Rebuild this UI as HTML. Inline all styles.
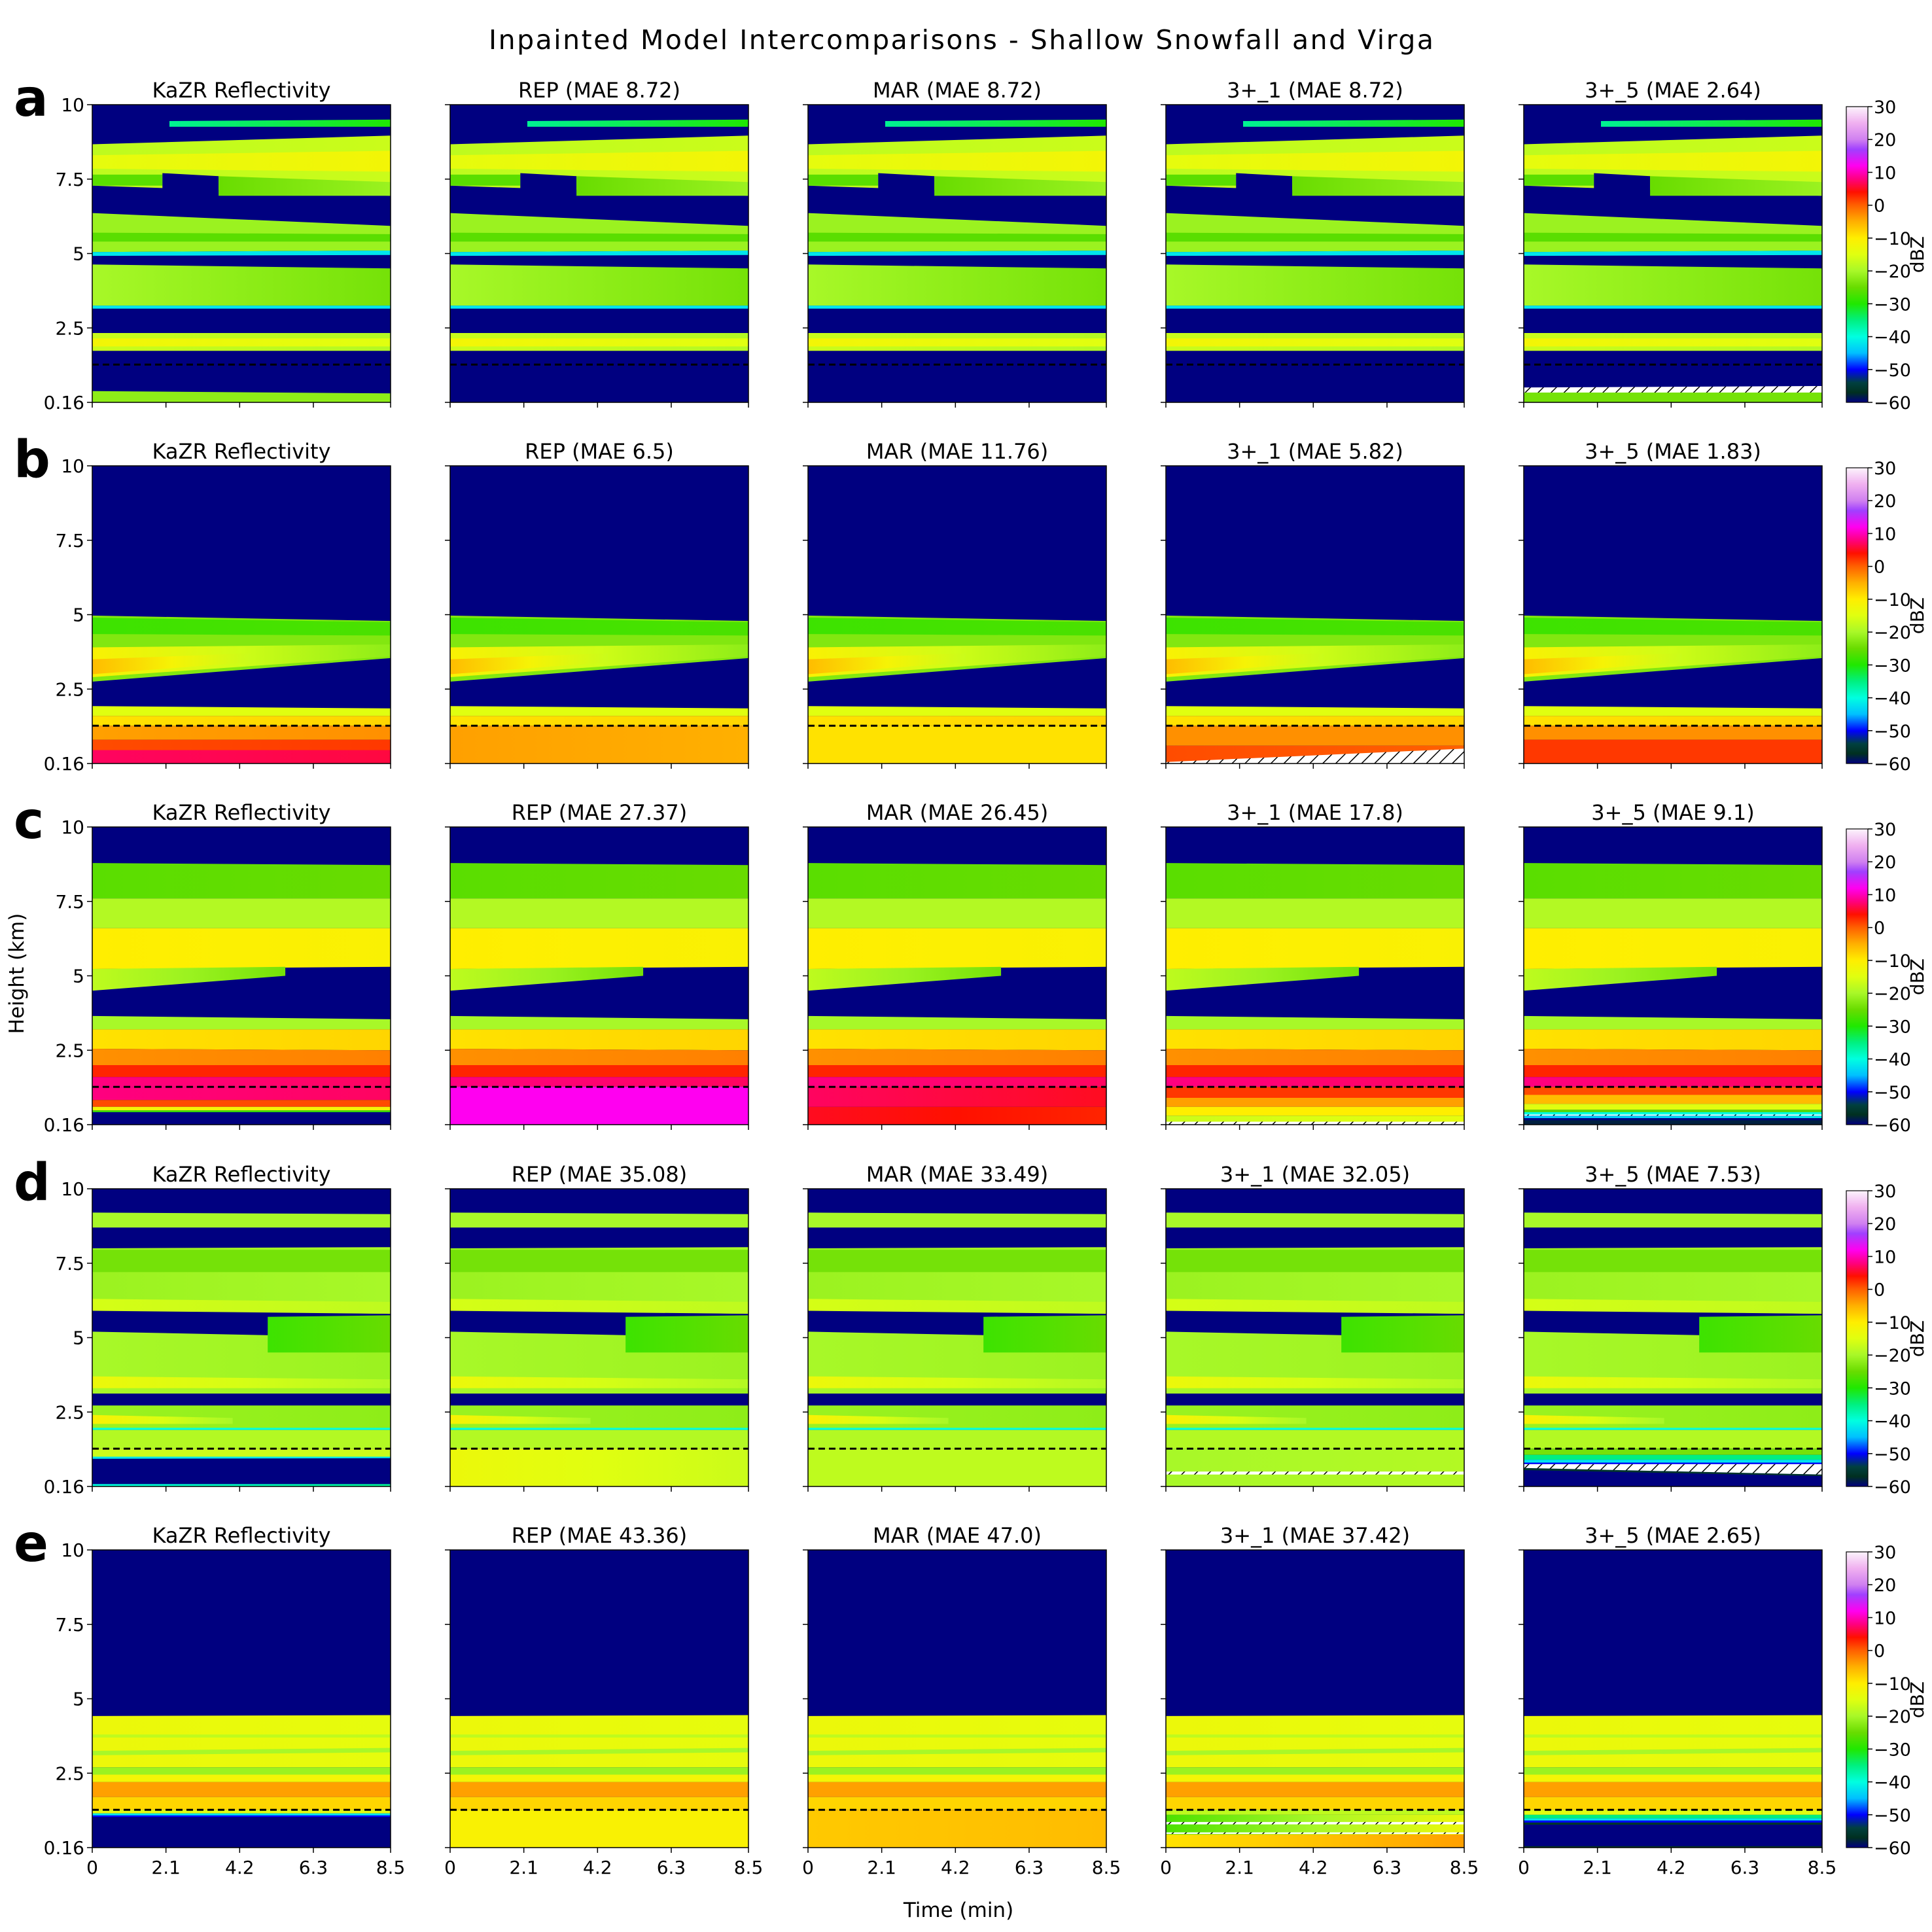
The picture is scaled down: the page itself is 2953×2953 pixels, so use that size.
<!DOCTYPE html>
<html><head><meta charset="utf-8"><title>Inpainted Model Intercomparisons</title>
<style>
html,body{margin:0;padding:0;background:#fff;}
svg{display:block;font-family:"DejaVu Sans","Liberation Sans",sans-serif;}
</style></head>
<body>
<svg id="fig" xmlns="http://www.w3.org/2000/svg" width="2953" height="2953" viewBox="0 0 2953 2953">
<defs id="defs">
<pattern id="hatch" patternUnits="userSpaceOnUse" width="14" height="14" patternTransform="rotate(45)">
<rect width="14" height="14" fill="#fff"/><line x1="0" y1="0" x2="0" y2="14" stroke="#000" stroke-width="3"/>
</pattern>
</defs>
<text x="1469" y="75" font-size="41" text-anchor="middle" textLength="1444">Inpainted Model Intercomparisons - Shallow Snowfall and Virga</text>
<text transform="translate(36,1488) rotate(-90)" font-size="31" text-anchor="middle">Height (km)</text>
<text x="1465" y="2930" font-size="31" text-anchor="middle">Time (min)</text>
</svg>
<script>
// ---------- data ----------
const rowLetters = ['a','b','c','d','e'];
const modelNames = ['KaZR Reflectivity','REP','MAR','3+_1','3+_5'];
const maeA = ['8.72','8.72','8.72','2.64'];
const maeB = ['6.5','11.76','5.82','1.83'];
const maeC = ['27.37','26.45','17.8','9.1'];
const maeD = ['35.08','33.49','32.05','7.53'];
const maeE = ['43.36','47.0','37.42','2.65'];
const xTickLabels = ['0','2.1','4.2','6.3','8.5'];
const xTickValues = [0,2.1,4.2,6.3,8.5];
const yTickLabels = ['10','7.5','5','2.5','0.16'];
const yTickValues = [10,7.5,5,2.5,0];
const cbarTicks = [30,20,10,0,-10,-20,-30,-40,-50,-60];
const blindZoneKm = 1.27;
// band: [bottomStart, bottomEnd, topStart, topEnd, dBZstart, dBZend, tStart?, tEnd?]
const upperA = [
 [7.28,6.94,8.67,8.96,-18,-17],[7.85,7.75,8.3,8.45,-14,-12],[7.28,7.28,7.65,7.65,-26,-26,0,2],
 [7.0,7.0,7.7,7.6,-60,-60,2,3.6],[6.94,6.94,7.6,7.4,-25,-21,3.6,8.5],[9.26,9.26,9.45,9.5,-36,-30,2.2,8.5],
 [5.05,5.1,6.36,5.93,-21,-21],[5.4,5.4,5.7,5.65,-26,-26],[4.92,4.95,5.05,5.1,-42,-42],
 [3.25,3.25,4.63,4.5,-20,-24],[3.15,3.15,3.25,3.25,-42,-42],[1.73,1.73,2.33,2.33,-17,-19],[1.88,1.88,2.15,2.15,-12,-15]
];
const lowA = [[[0,0,0.38,0.3,-22,-22]],[],[],[],[[0,0,0.42,0.45,-24,-24]]];
const hatchA = [[],[],[],[],[[0.33,0.33,0.5,0.55,0,8.5]]];
const upperB = [
 [2.75,3.54,4.97,4.79,-23,-23],[4.35,4.3,4.9,4.75,-28,-27],[2.9,3.6,3.9,4.0,-11,-22],
 [3.0,3.4,3.5,3.7,-6,-17,0,4.5],[1.6,1.6,1.93,1.85,-15,-15],[1.27,1.27,1.6,1.6,-9,-8]
];
const lowB = [
 [[0.8,0.8,1.27,1.27,-4,-3],[0.45,0.45,0.8,0.8,1,2],[0,0,0.45,0.45,7,6]],
 [[0,0,1.27,1.27,-4,-5]],
 [[0,0,1.27,1.27,-9,-9]],
 [[0.6,0.6,1.27,1.27,-3,-3],[0,0,0.6,0.6,1,0]],
 [[0.8,0.8,1.27,1.27,-3,-3],[0,0,0.8,0.8,2,2]]
];
const hatchB = [[],[],[],[[0,0,0.05,0.5,6.8,8.5]],[]];
const upperC = [
 [7.6,7.6,8.79,8.72,-26,-25],[6.6,6.6,7.6,7.6,-19,-19],[5.23,5.3,6.6,6.6,-10,-11],
 [4.5,5.0,5.23,5.3,-18,-24,0,5.5],[3.2,3.2,3.65,3.54,-20,-20],[2.55,2.5,3.2,3.2,-9,-8],
 [2.0,2.0,2.55,2.5,-3,-2],[1.6,1.6,2.0,2.0,3,3],[1.27,1.27,1.6,1.6,8,7]
];
const lowC = [
 [[0.83,0.83,1.27,1.27,8,7],[0.6,0.6,0.83,0.83,1,1],[0.48,0.48,0.6,0.6,-12,-12],[0.42,0.42,0.48,0.48,-28,-28]],
 [[0,0,1.27,1.27,12,12]],
 [[0.6,0.6,1.27,1.27,7,5],[0,0,0.6,0.6,5,3]],
 [[0.9,0.9,1.27,1.27,2,2],[0.6,0.6,0.9,0.9,-4,-4],[0.3,0.3,0.6,0.6,-10,-10],[0,0,0.3,0.3,-17,-14]],
 [[1.0,1.0,1.27,1.27,1,1],[0.7,0.7,1.0,1.0,-6,-6],[0.5,0.5,0.7,0.7,-15,-15],[0.42,0.42,0.5,0.5,-26,-26],[0.34,0.34,0.42,0.42,-40,-40],[0.22,0.22,0.3,0.3,-45,-42],[0,0,0.15,0.15,-58,-58]]
];
const hatchC = [[],[],[],[[0,0,0.1,0.1,0,0.8]],[[0.3,0.3,0.34,0.34,0,1.2]]];
const upperD = [
 [8.7,8.7,9.2,9.15,-20,-20],[5.94,5.8,8.0,8.04,-21,-20],[7.2,7.2,7.95,7.95,-24,-24],
 [5.9,5.8,6.3,6.2,-16,-18],[3.12,3.12,5.2,5.0,-20,-21],[4.5,4.5,5.7,5.75,-28,-25,5.0,8.5],
 [3.3,3.3,3.7,3.6,-13,-19],[1.95,1.95,2.72,2.72,-21,-22],[2.1,2.1,2.4,2.3,-11,-20,0,4],
 [1.9,1.9,1.97,1.97,-40,-40],[1.27,1.27,1.9,1.9,-19,-19]
];
const lowD = [
 [[1.0,1.0,1.27,1.27,-17,-17],[0.93,0.95,1.0,1.0,-42,-42],[0,0,0.08,0.08,-40,-36]],
 [[0,0,1.27,1.27,-13,-17]],
 [[0,0,1.27,1.27,-18,-18]],
 [[0,0,1.27,1.27,-20,-19]],
 [[1.06,1.06,1.27,1.27,-24,-24],[0.9,0.9,1.06,1.06,-35,-35],[0.8,0.8,0.9,0.9,-42,-42],[0.75,0.75,0.8,0.8,-50,-50],[0.55,0.35,0.62,0.4,-56,-56]]
];
const hatchD = [[],[],[],[[0.4,0.4,0.5,0.5,0,0.2]],[[0.62,0.4,0.75,0.75,0,8.5]]];
const upperE = [
 [2.7,2.7,4.42,4.45,-13,-14],[3.1,3.2,3.25,3.35,-20,-20],[3.7,3.7,3.8,3.8,-18,-18],
 [2.45,2.45,2.7,2.7,-21,-21],[2.2,2.2,2.45,2.45,-12,-12],[1.7,1.7,2.2,2.2,-4,-4],[1.27,1.27,1.7,1.7,-8,-8]
];
const lowE = [
 [[1.15,1.15,1.27,1.27,-14,-14],[1.08,1.08,1.15,1.15,-42,-42],[1.03,1.03,1.08,1.08,-50,-50]],
 [[0,0,1.27,1.27,-11,-11]],
 [[0,0,1.27,1.27,-7,-6]],
 [[1.1,1.1,1.27,1.27,-18,-18],[0.44,0.44,1.1,1.1,-27,-13],[0,0,0.44,0.44,-9,-4]],
 [[1.1,1.1,1.27,1.27,-15,-15],[0.98,0.98,1.1,1.1,-35,-35],[0.91,0.91,0.98,0.98,-42,-42],[0.84,0.84,0.91,0.91,-50,-50],[0.77,0.77,0.84,0.84,-56,-56],[0,0,0.05,0.05,-56,-56]]
];
const hatchE = [[],[],[],[[0.78,0.78,0.86,0.86,0.3,1.9],[0.8,0.8,0.84,0.84,1.9,3.2],[0.46,0.46,0.51,0.51,0,6.8]],[]];

const maeRows = [maeA,maeB,maeC,maeD,maeE];
const upperRows = [upperA,upperB,upperC,upperD,upperE];
const lowRows = [lowA,lowB,lowC,lowD,lowE];
const hatchRows = [hatchA,hatchB,hatchC,hatchD,hatchE];

// ---------- layout ----------
const colLeft = [141,688,1235,1782,2329];
const rowTop = [160,712,1264,1817,2369];
const PW = 456, PH = 455;
const CB_X = 2822, CB_W = 33;

const cmStops = [
 [-60,'#000080'],[-57,'#003020'],[-54,'#004040'],[-50,'#0000ff'],[-45,'#00c0ff'],[-40,'#00ffe0'],
 [-35,'#00f080'],[-30,'#20e800'],[-25,'#68dc00'],[-20,'#a8f828'],[-15,'#e0ff10'],[-10,'#ffee00'],
 [-5,'#ffb000'],[0,'#ff6000'],[4,'#ff1000'],[8,'#ff0080'],[12,'#ff00f0'],[17,'#a040ff'],
 [20,'#d080f0'],[25,'#f0b0f0'],[30,'#fcf4fc']
];
function hex(c){return [parseInt(c.substr(1,2),16),parseInt(c.substr(3,2),16),parseInt(c.substr(5,2),16)];}
function cmap(v){
  v=Math.max(-60,Math.min(30,v));
  for(let i=0;i<cmStops.length-1;i++){
    const a=cmStops[i],b=cmStops[i+1];
    if(v>=a[0]&&v<=b[0]){
      const f=(v-a[0])/(b[0]-a[0]),ca=hex(a[1]),cb=hex(b[1]);
      return 'rgb('+ca.map((x,k)=>Math.round(x+(cb[k]-x)*f)).join(',')+')';
    }
  }
  return cmStops[cmStops.length-1][1];
}
const NS='http://www.w3.org/2000/svg';
const svg=document.getElementById('fig');
const defs=document.getElementById('defs');
function mk(tag,attrs,parent){const e=document.createElementNS(NS,tag);for(const k in attrs)e.setAttribute(k,attrs[k]);(parent||svg).appendChild(e);return e;}
function xs(t,c){return colLeft[c]+t/8.5*PW;}
function ys(k,r){return rowTop[r]+(10-k)/10*PH;}
let gid=0;
function drawBand(g,b,r,c,fillOverride){
  const t0=b.length>6?b[6]:0,t1=b.length>6?b[7]:8.5;
  const pts=[[xs(t0,c),ys(b[0],r)],[xs(t1,c),ys(b[1],r)],[xs(t1,c),ys(b[3],r)],[xs(t0,c),ys(b[2],r)]];
  let fill=fillOverride;
  if(!fill){
    if(b[4]===b[5]) fill=cmap(b[4]);
    else{
      const id='g'+(gid++);
      const lg=mk('linearGradient',{id:id,x1:'0',y1:'0',x2:'1',y2:'0'},defs);
      mk('stop',{offset:'0','stop-color':cmap(b[4])},lg);
      mk('stop',{offset:'0.5','stop-color':cmap((b[4]+b[5])/2)},lg);
      mk('stop',{offset:'1','stop-color':cmap(b[5])},lg);
      fill='url(#'+id+')';
    }
  }
  return mk('polygon',{points:pts.map(q=>q[0].toFixed(1)+','+q[1].toFixed(1)).join(' '),fill:fill},g);
}

for(let r=0;r<5;r++){
  const letter=mk('text',{x:21,y:rowTop[r]+17,'font-size':78,'font-weight':'bold'});
  
  
  letter.textContent=rowLetters[r];
  for(let c=0;c<5;c++){
    const g=mk('g',{});
    
    
    const bg=mk('rect',{x:colLeft[c],y:rowTop[r],width:PW,height:PH,fill:'#000080'},g);
    
    
    upperRows[r].forEach(b=>{
      const p=drawBand(g,b,r,c);
      
      
    });
    lowRows[r][c].forEach(b=>{
      const p=drawBand(g,b,r,c);
      
      
    });
    hatchRows[r][c].forEach(b=>{
      const p=drawBand(g,b,r,c,'url(#hatch)');
      
      
    });
    const dl=mk('line',{x1:xs(0,c),x2:xs(8.5,c),y1:ys(blindZoneKm,r),y2:ys(blindZoneKm,r),stroke:'#000','stroke-width':3,'stroke-dasharray':'10,6'},g);
    
    
    const fr=mk('rect',{x:colLeft[c],y:rowTop[r],width:PW,height:PH,fill:'none',stroke:'#000','stroke-width':1.5},g);
    
    
    const tt=mk('text',{x:colLeft[c]+PW/2,y:rowTop[r]-11,'font-size':32,'text-anchor':'middle'},g);
    
    
    tt.textContent=c===0?modelNames[0]:modelNames[c]+' (MAE '+maeRows[r][c-1]+')';
    yTickValues.forEach((v,i)=>{
      const y=ys(v,r);
      mk('line',{x1:colLeft[c]-8,x2:colLeft[c],y1:y,y2:y,stroke:'#000','stroke-width':1.5},g);
      if(c===0){
        const t=mk('text',{x:colLeft[c]-12,y:y+10,'font-size':28,'text-anchor':'end'},g);
        
        
        t.textContent=yTickLabels[i];
      }
    });
    xTickValues.forEach((v,i)=>{
      const x=xs(v,c);
      mk('line',{x1:x,x2:x,y1:rowTop[r]+PH,y2:rowTop[r]+PH+8,stroke:'#000','stroke-width':1.5},g);
      if(r===4){
        const t=mk('text',{x:x,y:rowTop[r]+PH+40,'font-size':28,'text-anchor':'middle'},g);
        
        
        t.textContent=xTickLabels[i];
      }
    });
  }
  const cg=mk('g',{});
  
  
  const top=rowTop[r]+3,h=PH-3;
  if(r===0){
    const lg=mk('linearGradient',{id:'cbgrad',x1:'0',y1:'1',x2:'0',y2:'0'},defs);
    cmStops.forEach(s=>mk('stop',{offset:((s[0]+60)/90).toFixed(4),'stop-color':s[1]},lg));
  }
  mk('rect',{x:CB_X,y:top,width:CB_W,height:h,fill:'url(#cbgrad)',stroke:'#000','stroke-width':1.2},cg);
  cbarTicks.forEach(v=>{
    const y=top+(30-v)/90*h;
    mk('line',{x1:CB_X+CB_W,x2:CB_X+CB_W+7,y1:y,y2:y,stroke:'#000','stroke-width':1.5},cg);
    const t=mk('text',{x:CB_X+CB_W+9,y:y+10,'font-size':27},cg);
    
    
    t.textContent=(v<0?'\u2212'+(-v):String(v));
  });
  const dl=mk('text',{transform:'translate(2940,'+(top+h/2)+') rotate(-90)','font-size':28,'text-anchor':'middle'},cg);
  
  
  dl.textContent='dBZ';
}
</script>
</body></html>
